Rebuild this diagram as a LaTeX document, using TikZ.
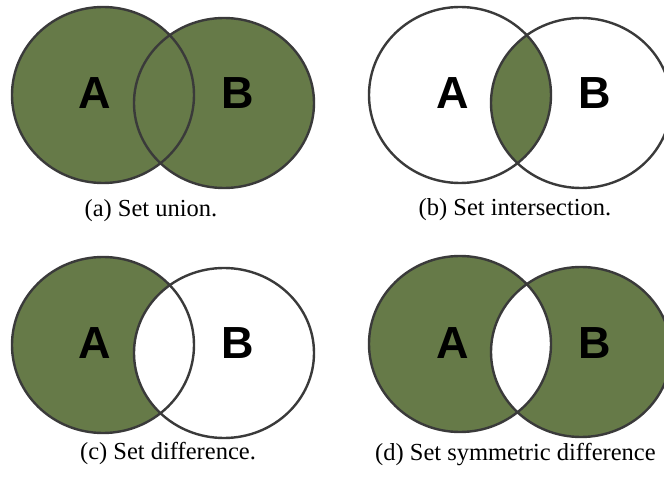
\documentclass[tikz,border=0pt]{standalone}
\usepackage{fontspec}
\setmainfont{Liberation Serif}
\newfontfamily\setnamefont{Liberation Sans}
\definecolor{setgreen}{RGB}{102,122,72}
\definecolor{setline}{RGB}{58,58,58}
\tikzset{
  setedge/.style={draw=setline, line width=2.4pt},
  setname/.style={font=\setnamefont\bfseries\fontsize{45}{50}\selectfont, inner sep=0pt},
  setcaption/.style={font=\fontsize{24.5}{28}\selectfont, inner sep=0pt}
}
% the two sets of one panel, centred on its left set
\newcommand{\setA}{(0pt,0pt) ellipse [x radius=91pt, y radius=88pt]}
\newcommand{\setB}{(121pt,-8pt) ellipse [x radius=90pt, y radius=85pt]}
\begin{document}
\begin{tikzpicture}[x=1pt, y=1pt]
    \useasboundingbox (0,0) rectangle (664,477);
    \clip (0,0) rectangle (664,477);

    % (a) union
    \begin{scope}[shift={(103,382)}]
        \fill[setgreen] \setA;
        \fill[setgreen] \setB;
        \draw[setedge] \setA;
        \draw[setedge] \setB;
        \node[setname] (unionA) at (-8,1.5) {A};
        \node[setname] (unionB) at (134.5,1.5) {B};
    \end{scope}
    \node[setcaption] (capunion) at (151,266) {(a) Set union.};

    % (b) intersection
    \begin{scope}[shift={(460,382)}]
        \begin{scope}
            \clip \setA;
            \fill[setgreen] \setB;
        \end{scope}
        \draw[setedge] \setA;
        \draw[setedge] \setB;
        \node[setname] (interA) at (-7,1.5) {A};
        \node[setname] (interB) at (135,1.5) {B};
    \end{scope}
    \node[setcaption] (capinter) at (515,267) {(b) Set intersection.};

    % (c) difference
    \begin{scope}[shift={(103,132)}]
        \fill[setgreen] \setA;
        \fill[white] \setB;
        \draw[setedge] \setA;
        \draw[setedge] \setB;
        \node[setname] (diffA) at (-8,1.5) {A};
        \node[setname] (diffB) at (134.5,1.5) {B};
    \end{scope}
    \node[setcaption] (capdiff) at (168,24) {(c) Set difference.};

    % (d) symmetric difference
    \begin{scope}[shift={(460,133)}]
        \fill[setgreen] \setA;
        \fill[setgreen] \setB;
        \begin{scope}
            \clip \setA;
            \fill[white] \setB;
        \end{scope}
        \draw[setedge] \setA;
        \draw[setedge] \setB;
        \node[setname] (symA) at (-7,0.5) {A};
        \node[setname] (symB) at (135,0.5) {B};
    \end{scope}
    \node[setcaption, anchor=west] (capsym) at (375,22) {(d) Set symmetric difference};
\end{tikzpicture}
\end{document}
